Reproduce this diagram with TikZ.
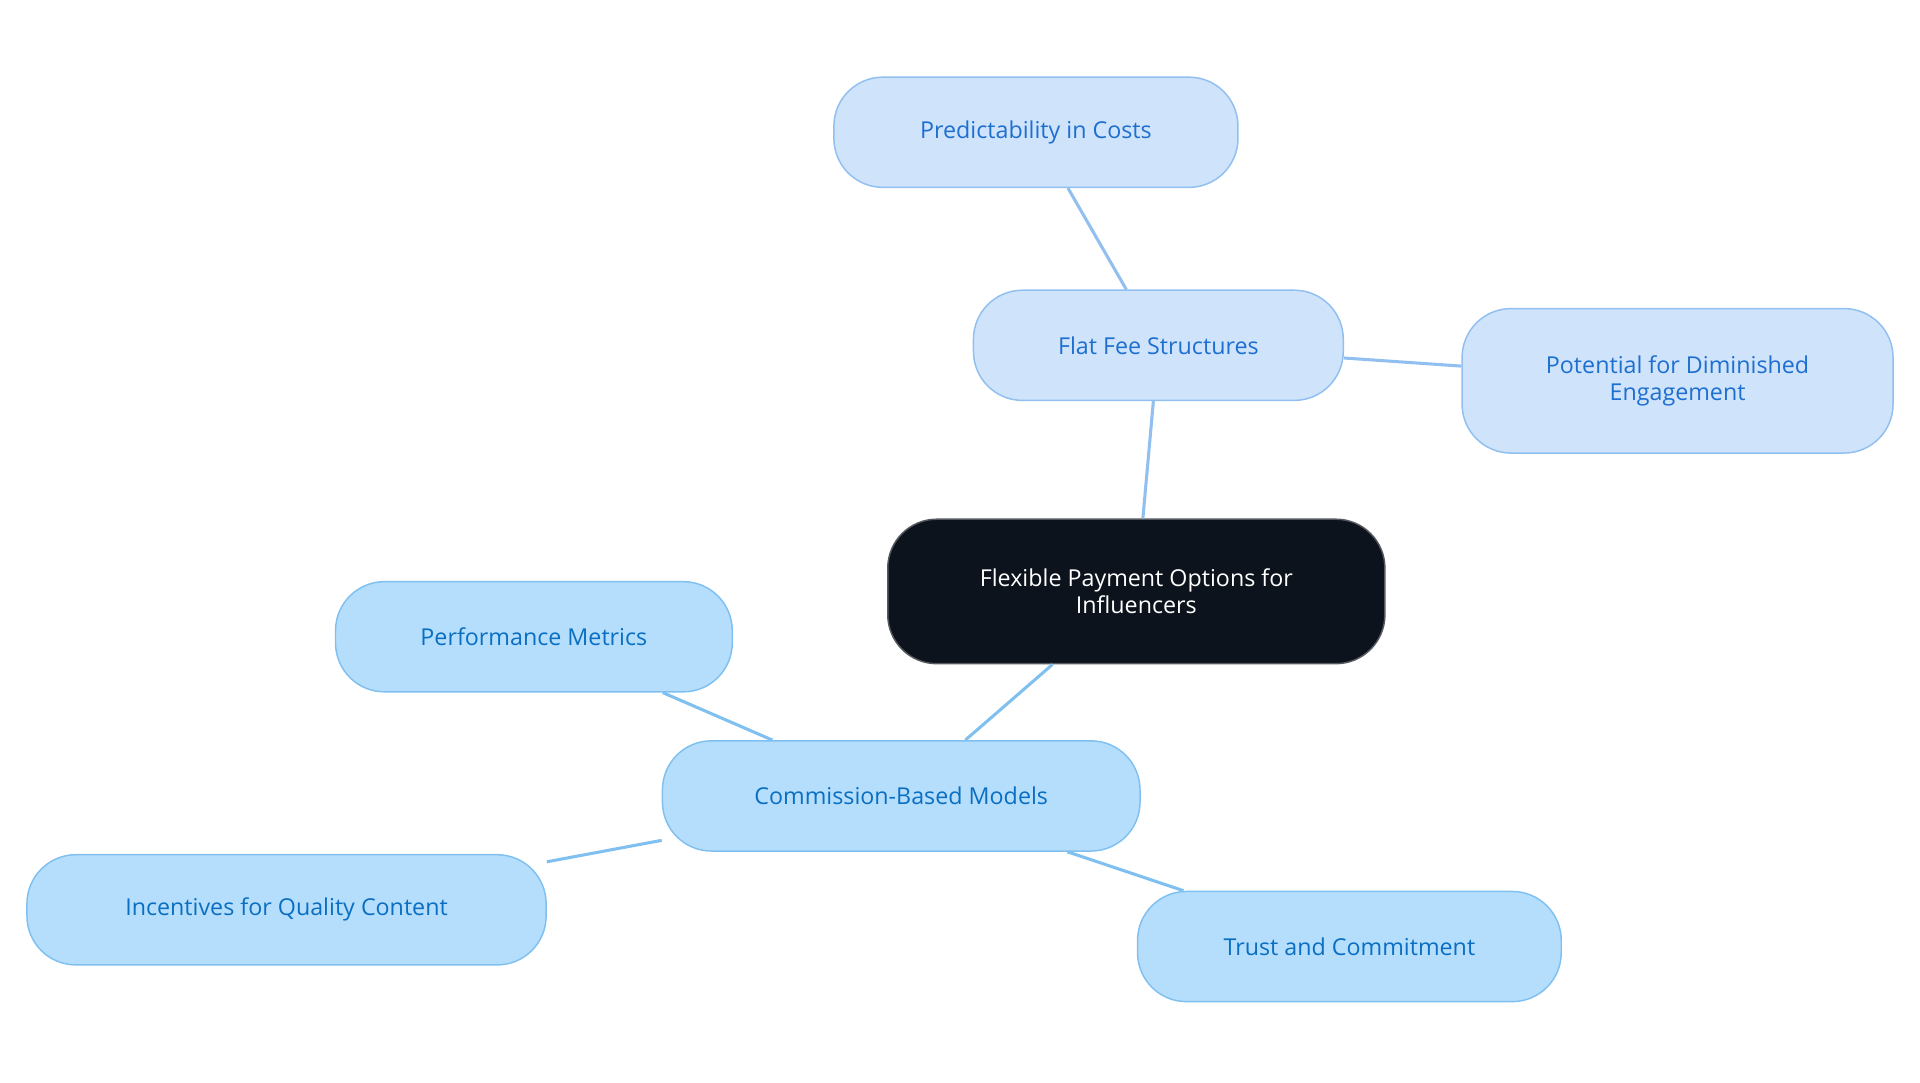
\documentclass[tikz,border=0pt]{standalone}
\usepackage{fontspec}
\setmainfont{Open Sans}
\definecolor{rootfill}{HTML}{0D131C}
\definecolor{fafill}{HTML}{CFE3FB}
\definecolor{fastroke}{HTML}{90BFF0}
\definecolor{fatext}{HTML}{1D6FD0}
\definecolor{cbfill}{HTML}{B5DEFC}
\definecolor{cbstroke}{HTML}{80C0F0}
\definecolor{cbtext}{HTML}{0A6FC2}
\tikzset{
 base/.style={rounded corners=40pt, line width=1.2pt, align=center, font=\fontsize{19}{22}\selectfont, inner sep=0pt},
 fa/.style={base, draw=fastroke, fill=fafill, text=fatext},
 cb/.style={base, draw=cbstroke, fill=cbfill, text=cbtext},
 rootbox/.style={base, draw=rootfill!70, fill=rootfill, text=white},
 fal/.style={draw=fastroke, line width=2.5pt},
 cbl/.style={draw=cbstroke, line width=2.5pt},
}
\begin{document}
\begin{tikzpicture}[x=1pt,y=-1pt]
\useasboundingbox (0,0) rectangle (1568,884);
\node[rootbox, minimum width=406pt, minimum height=118pt] (root) at (928,483) {Flexible Payment Options for\\Influencers};
\node[fa, minimum width=302pt, minimum height=90pt] (flat) at (946,282) {Flat Fee Structures};
\node[fa, minimum width=330pt, minimum height=90pt] (pred) at (846,108) {Predictability in Costs};
\node[fa, minimum width=352pt, minimum height=118pt] (pot) at (1370,311) {Potential for Diminished\\Engagement};
\node[cb, minimum width=390pt, minimum height=90pt] (comm) at (736,650) {Commission-Based Models};
\node[cb, minimum width=324pt, minimum height=90pt] (perf) at (436,520) {Performance Metrics};
\node[cb, minimum width=424pt, minimum height=90pt] (inc) at (234,743) {Incentives for Quality Content};
\node[cb, minimum width=346pt, minimum height=90pt] (trust) at (1102,773) {Trust and Commitment};
\begin{scope}[on background layer/.style={}]
\end{scope}
\draw[fal] (root) -- (flat);
\draw[fal] (flat) -- (pred);
\draw[fal] (flat) -- (pot);
\draw[cbl] (root) -- (comm);
\draw[cbl] (comm) -- (perf);
\draw[cbl] (comm) -- (inc);
\draw[cbl] (comm) -- (trust);
\end{tikzpicture}
\end{document}
